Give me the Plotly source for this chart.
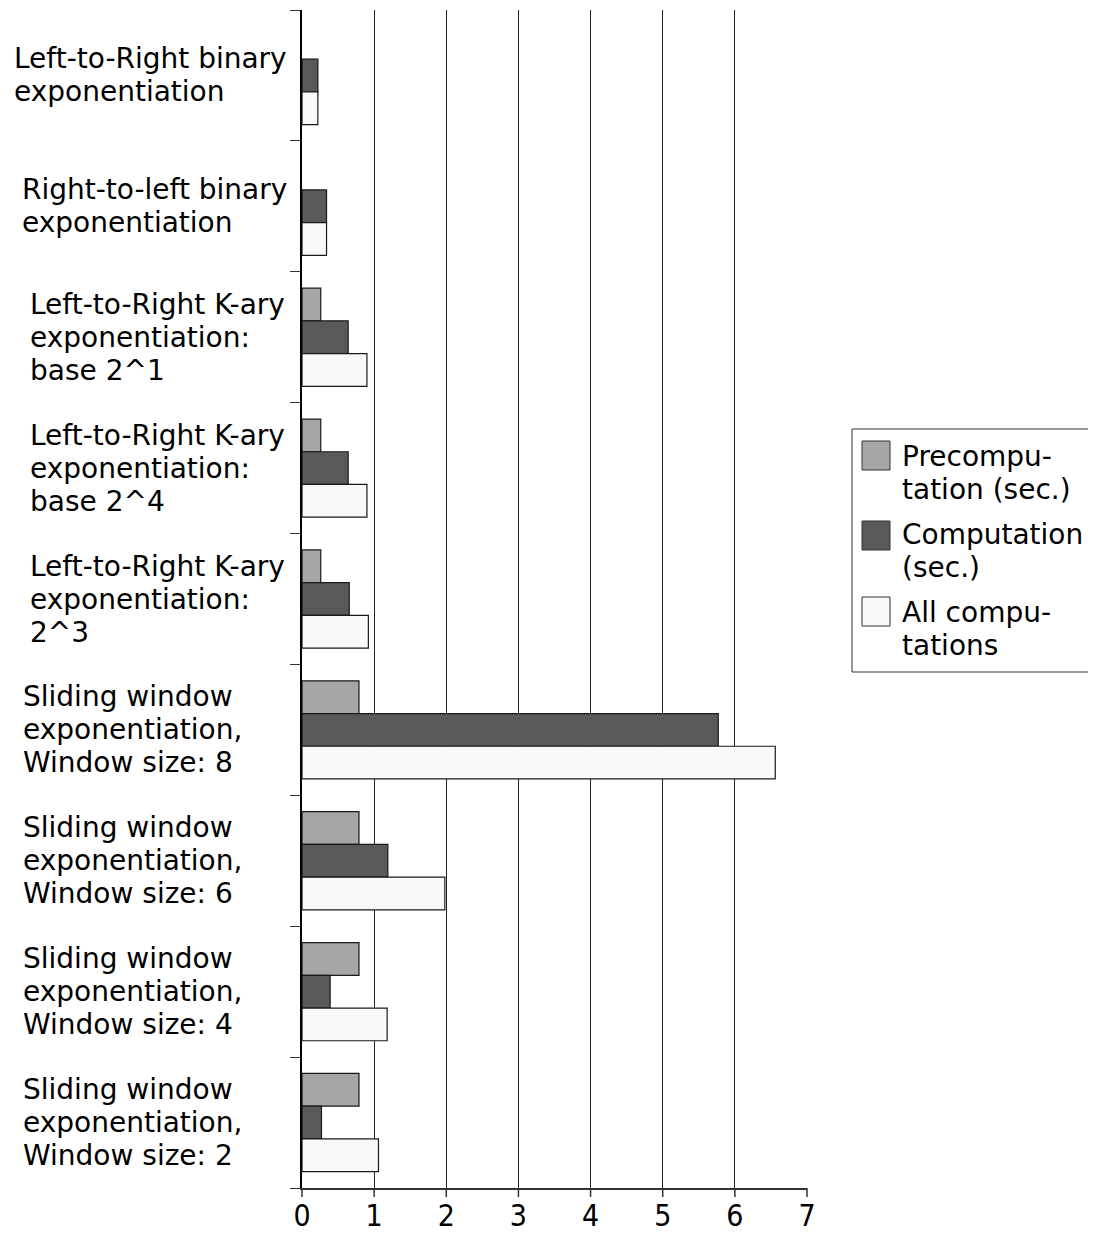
import plotly.graph_objects as go

categories = [
    "Left-to-Right binary\nexponentiation",
    "Right-to-left binary\nexponentiation",
    "Left-to-Right K-ary\nexponentiation:\nbase 2^1",
    "Left-to-Right K-ary\nexponentiation:\nbase 2^4",
    "Left-to-Right K-ary\nexponentiation:\n2^3",
    "Sliding window\nexponentiation,\nWindow size: 8",
    "Sliding window\nexponentiation,\nWindow size: 6",
    "Sliding window\nexponentiation,\nWindow size: 4",
    "Sliding window\nexponentiation,\nWindow size: 2",
]
precomputation = [None, None, 0.26, 0.26, 0.26, 0.79, 0.79, 0.79, 0.79]
computation = [0.22, 0.34, 0.64, 0.64, 0.655, 5.77, 1.19, 0.39, 0.27]
all_computations = [0.22, 0.34, 0.90, 0.90, 0.92, 6.56, 1.98, 1.18, 1.06]
series_names = ["Precompu-\ntation (sec.)", "Computation\n(sec.)", "All compu-\ntations"]
x_ticks = [0, 1, 2, 3, 4, 5, 6, 7]
x_range = [0, 7]

colors = ["#a6a6a6", "#595959", "#f9f9f9"]
FONT = "DejaVu Sans"
OFF = 8  # page body margin
SW, SH = 1096, 1234
W, H = SW - OFF, SH - OFF
# plot area in screen pixels
L, R, T, B = 302, 807, 10, 1188
LINE = 33

idx = list(range(len(categories)))
fig = go.Figure()
for vals, name, col in zip([precomputation, computation, all_computations], series_names, colors):
    fig.add_trace(go.Bar(
        y=idx, x=vals, orientation="h", name=name.replace("\n", " "),
        marker=dict(color=col, line=dict(color="#1a1a1a", width=1.2)),
        showlegend=False,
    ))

def px(xp):
    return (xp - L) / (R - L)

def py(yp):
    return (B - yp) / (B - T)

def lines_at(text, left, center, size=28):
    parts = text.split("\n")
    n = len(parts)
    for k, p in enumerate(parts):
        yc = center + (k - (n - 1) / 2) * LINE
        fig.add_annotation(x=px(left), xref="paper", y=py(yc), yref="paper", text=p,
                           showarrow=False, xanchor="left", yanchor="middle", align="left",
                           borderpad=0, font=dict(family=FONT, size=size, color="black"))

# category labels
label_left = [13, 21, 29, 29, 29, 22, 22, 22, 22]
band = (B - T) / len(categories)
for i, (lab, lx) in enumerate(zip(categories, label_left)):
    lines_at(lab, lx, T + band * (i + 0.5))

# x-axis tick marks below the axis line (decoration placed along the axis domain)
for v in x_ticks:
    f = (v - x_range[0]) / (x_range[1] - x_range[0])
    fig.add_shape(type="line", xref="x domain", yref="paper", x0=f, x1=f,
                  y0=0, y1=-9 / (B - T), line=dict(color="#333333", width=1.5))

# manual legend
fig.add_shape(type="rect", xref="paper", yref="paper",
              x0=px(852), x1=px(1110), y0=py(672), y1=py(429),
              line=dict(color="#333333", width=1), fillcolor="white", layer="above")
sw_tops = [441, 521, 597]
txt_centers = [472.5, 551, 628.5]
for name, col, st, tc in zip(series_names, colors, sw_tops, txt_centers):
    fig.add_shape(type="rect", xref="paper", yref="paper",
                  x0=px(862), x1=px(890), y0=py(st + 29), y1=py(st),
                  line=dict(color="#333333", width=1), fillcolor=col, layer="above")
    lines_at(name, 901, tc)

fig.update_layout(
    width=W, height=H,
    margin=dict(l=L - OFF, r=W - (R - OFF), t=T - OFF, b=H - (B - OFF), pad=0,
                autoexpand=False),
    paper_bgcolor="white", plot_bgcolor="white",
    barmode="group", bargap=0.25, bargroupgap=0,
    font=dict(family=FONT, size=28, color="black"),
    xaxis=dict(range=x_range, tickvals=x_ticks, ticktext=[str(v) for v in x_ticks],
               showgrid=True, gridcolor="#222222", gridwidth=1,
               showline=True, linecolor="#333333", linewidth=2,
               ticks="", automargin=False,
               zeroline=False, tickfont=dict(size=30, family="DejaVu Sans Condensed")),
    yaxis=dict(range=[len(categories) - 0.5, -0.5], tickmode="array",
               tickvals=[i - 0.5 for i in range(len(categories) + 1)],
               showticklabels=False, showgrid=False, zeroline=False,
               showline=True, linecolor="black", linewidth=2, automargin=False,
               ticks="outside", ticklen=10, tickcolor="#333333"),
)
fig.write_html("out.html")
